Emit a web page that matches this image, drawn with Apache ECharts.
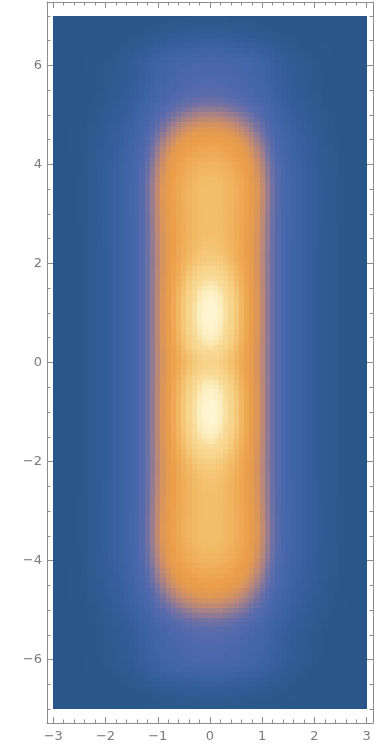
<!DOCTYPE html>
<html>
<head>
<meta charset="utf-8">
<script src="https://cdn.jsdelivr.net/npm/echarts@6/dist/echarts.min.js"></script>
<style>
  html, body { margin: 0; padding: 0; background: #ffffff; }
  #chart { width: 378px; height: 751px; }
</style>
</head>
<body>
<div id="chart"></div>
<script>
// Sample positions on the non-negative half; the field is mirror-symmetric in x and in y.
const xHalf = [0.0, 0.1, 0.2, 0.3, 0.4, 0.5, 0.6, 0.7, 0.8, 0.9, 1.0, 1.1, 1.2, 1.3, 1.4, 1.5,
  1.6, 1.7, 1.8, 1.9, 2.0, 2.1, 2.2, 2.3, 2.4, 2.5, 2.6, 2.7, 2.8, 2.9, 3.0];
const yHalf = [0.0, 0.1, 0.2, 0.3, 0.4, 0.5, 0.6, 0.7, 0.8, 0.9, 1.0, 1.1, 1.2, 1.3, 1.4, 1.5,
  1.6, 1.7, 1.8, 1.9, 2.0, 2.1, 2.2, 2.3, 2.4, 2.5, 2.6, 2.7, 2.8, 2.9, 3.0, 3.1, 3.2, 3.3,
  3.4, 3.5, 3.6, 3.7, 3.8, 3.9, 4.0, 4.1, 4.2, 4.3, 4.4, 4.5, 4.6, 4.7, 4.8, 4.9, 5.0, 5.1,
  5.2, 5.3, 5.4, 5.5, 5.6, 5.7, 5.8, 5.9, 6.0, 6.1, 6.2, 6.3, 6.4, 6.5, 6.6, 6.7, 6.8, 6.9, 7.0];

// Broad band: profile across x
const bandX = [1.000, 0.997, 0.990, 0.975, 0.955, 0.930, 0.900, 0.865, 0.820, 0.770, 0.710,
  0.645, 0.575, 0.500, 0.435, 0.380, 0.330, 0.290, 0.255, 0.220, 0.190, 0.160, 0.135, 0.110,
  0.090, 0.072, 0.057, 0.045, 0.035, 0.027, 0.020];
// Broad band: profile along y
const bandY = [0.740, 0.740, 0.740, 0.740, 0.740, 0.740, 0.740, 0.740, 0.740, 0.740, 0.740,
  0.740, 0.740, 0.740, 0.740, 0.740, 0.740, 0.740, 0.740, 0.740, 0.740, 0.740, 0.742, 0.744,
  0.746, 0.748, 0.750, 0.752, 0.754, 0.756, 0.758, 0.760, 0.762, 0.763, 0.764, 0.763, 0.760,
  0.755, 0.748, 0.740, 0.730, 0.715, 0.700, 0.685, 0.665, 0.645, 0.620, 0.595, 0.570, 0.540,
  0.510, 0.480, 0.450, 0.425, 0.400, 0.385, 0.370, 0.360, 0.350, 0.340, 0.330, 0.310, 0.280,
  0.240, 0.200, 0.165, 0.130, 0.100, 0.080, 0.065, 0.050];
// Bright core: profile across x
const coreX = [1.000, 0.966, 0.870, 0.733, 0.575, 0.420, 0.290, 0.185, 0.110, 0.062, 0.033,
  0.016, 0.008, 0.004, 0.002, 0.001, 0, 0, 0, 0, 0, 0, 0, 0, 0, 0, 0, 0, 0, 0, 0];
// Bright core: profile along y (maxima near y = ±1)
const coreY = [0.110, 0.120, 0.145, 0.175, 0.200, 0.220, 0.235, 0.248, 0.255, 0.260, 0.260,
  0.260, 0.255, 0.245, 0.230, 0.210, 0.190, 0.165, 0.140, 0.115, 0.090, 0.070, 0.055, 0.042,
  0.032, 0.024, 0.018, 0.013, 0.009, 0.006, 0.004, 0.003, 0.002, 0.001, 0, 0, 0, 0, 0, 0, 0,
  0, 0, 0, 0, 0, 0, 0, 0, 0, 0, 0, 0, 0, 0, 0, 0, 0, 0, 0, 0, 0, 0, 0, 0, 0, 0, 0, 0, 0, 0];

// Density colour scale, low to high
const colorStops = ['#2a5689', '#2b588c', '#2e5b92', '#345e9a', '#3a61a0', '#4064a6', '#4666aa',
  '#4e68ac', '#5c6cab', '#7873a0', '#a2808a', '#c98d6c', '#e39a50', '#ec9f4a', '#efab56',
  '#f2ba66', '#f5c97a', '#f7d48c', '#f8db98', '#fbecbc', '#fdf5d2'];

// Frame ticks and labels
const xMajorTicks = [-3, -2, -1, 0, 1, 2, 3];
const xMinorTicks = [-2.8, -2.6, -2.4, -2.2, -1.8, -1.6, -1.4, -1.2, -0.8, -0.6, -0.4, -0.2,
  0.2, 0.4, 0.6, 0.8, 1.2, 1.4, 1.6, 1.8, 2.2, 2.4, 2.6, 2.8];
const yMajorTicks = [-6, -4, -2, 0, 2, 4, 6];
const yMinorTicks = [-7, -6.5, -5.5, -5, -4.5, -3.5, -3, -2.5, -1.5, -1, -0.5,
  0.5, 1, 1.5, 2.5, 3, 3.5, 4.5, 5, 5.5, 6.5, 7];

// Mirror the half profiles into full grids
function mirrorPos(a) { return a.slice(1).reverse().map(v => -v).concat(a); }
function mirrorVal(a) { return a.slice(1).reverse().concat(a); }
const xs = mirrorPos(xHalf), ys = mirrorPos(yHalf);
const bX = mirrorVal(bandX), bY = mirrorVal(bandY);
const cX = mirrorVal(coreX), cY = mirrorVal(coreY);

const cells = [];
for (let i = 0; i < xs.length; i++) {
  for (let j = 0; j < ys.length; j++) {
    cells.push([xs[i], ys[j], bX[i] * bY[j] + cX[i] * cY[j]]);
  }
}

const X_LIM = 3, Y_LIM = 7, HALF_STEP = 0.05;
const X_PAD = 3.12, Y_PAD = 7.28;
const frameColor = '#8c8c8c';
const labelColor = '#7a7a7a';
const fontFamily = 'DejaVu Sans';

function fmt(v) { return v < 0 ? '\u2212' + Math.abs(v) : String(v); }

// One density cell, snapped to whole pixels so neighbouring cells meet without seams
function renderCell(params, api) {
  const x = api.value(0), y = api.value(1);
  const x0 = Math.max(x - HALF_STEP, -X_LIM), x1 = Math.min(x + HALF_STEP, X_LIM);
  const y0 = Math.max(y - HALF_STEP, -Y_LIM), y1 = Math.min(y + HALF_STEP, Y_LIM);
  const p0 = api.coord([x0, y1]);
  const p1 = api.coord([x1, y0]);
  const left = Math.round(p0[0]), right = Math.round(p1[0]);
  const top = Math.round(p0[1]), bottom = Math.round(p1[1]);
  return {
    type: 'rect',
    shape: { x: left, y: top, width: right - left, height: bottom - top },
    style: { fill: api.visual('color') },
    silent: true
  };
}

function xAx(position, ticks, len, withLine, withLabel) {
  return {
    type: 'value', position: position, min: -X_PAD, max: X_PAD,
    axisLine: { show: withLine, onZero: false, lineStyle: { color: frameColor, width: 1 } },
    axisTick: { show: true, inside: true, length: len, customValues: ticks,
      lineStyle: { color: frameColor, width: 1 } },
    axisLabel: withLabel ? { show: true, customValues: ticks, formatter: fmt, color: labelColor,
      fontSize: 13, fontFamily: fontFamily, margin: 7 } : { show: false },
    splitLine: { show: false }
  };
}
function yAx(position, ticks, len, withLine, withLabel) {
  return {
    type: 'value', position: position, min: -Y_PAD, max: Y_PAD,
    axisLine: { show: withLine, onZero: false, lineStyle: { color: frameColor, width: 1 } },
    axisTick: { show: true, inside: true, length: len, customValues: ticks,
      lineStyle: { color: frameColor, width: 1 } },
    axisLabel: withLabel ? { show: true, customValues: ticks, formatter: fmt, color: labelColor,
      fontSize: 13, fontFamily: fontFamily, margin: 5 } : { show: false },
    splitLine: { show: false }
  };
}

const chart = echarts.init(document.getElementById('chart'), null, { renderer: 'canvas' });
chart.setOption({
  animation: false,
  backgroundColor: '#ffffff',
  grid: { left: 47, right: 5, top: 2, bottom: 28 },
  xAxis: [
    xAx('bottom', xMajorTicks, 6, true, true),
    xAx('bottom', xMinorTicks, 3.5, false, false),
    xAx('top', xMajorTicks, 6, true, false),
    xAx('top', xMinorTicks, 3.5, false, false)
  ],
  yAxis: [
    yAx('left', yMajorTicks, 6, true, true),
    yAx('left', yMinorTicks, 3.5, false, false),
    yAx('right', yMajorTicks, 6, true, false),
    yAx('right', yMinorTicks, 3.5, false, false)
  ],
  visualMap: {
    show: false, type: 'continuous', dimension: 2, min: 0, max: 1, seriesIndex: 0,
    inRange: { color: colorStops }
  },
  series: [{
    type: 'custom',
    xAxisIndex: 0, yAxisIndex: 0,
    renderItem: renderCell,
    progressive: 0,
    encode: { x: 0, y: 1 },
    data: cells
  }]
});
</script>
</body>
</html>
